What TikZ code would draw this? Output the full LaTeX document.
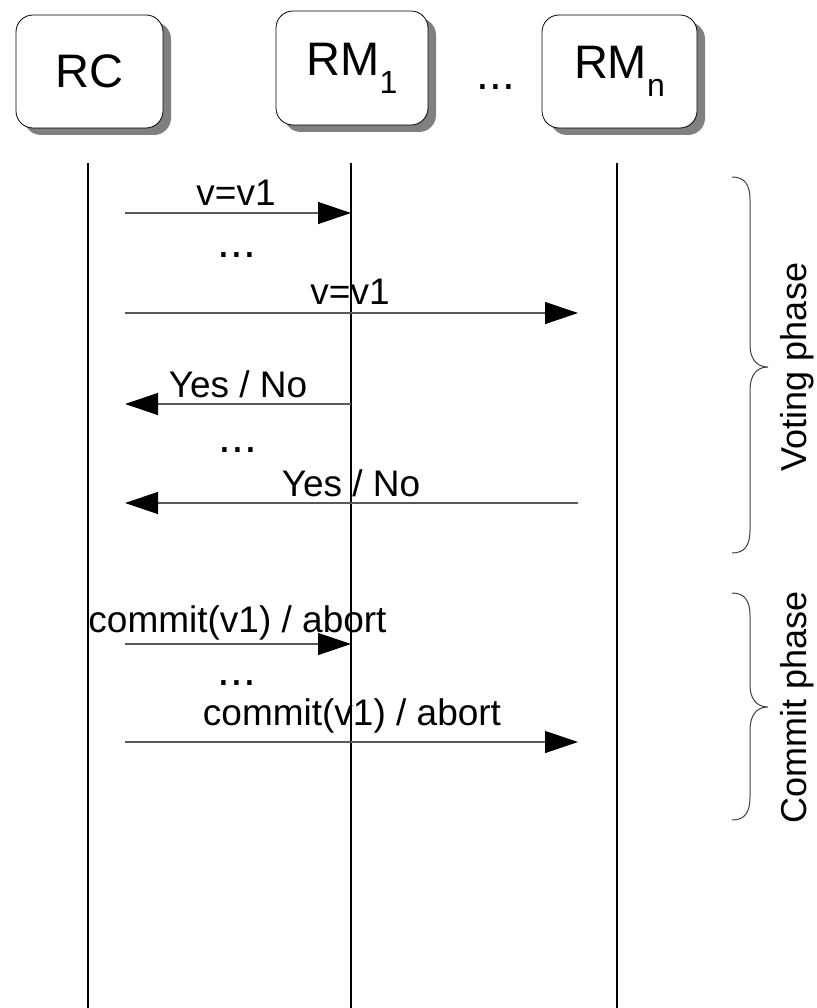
\documentclass[tikz,border=0pt]{standalone}
\usepackage{fontspec}
\setmainfont{Liberation Sans}
\usetikzlibrary{arrows.meta,shadows}

\begin{document}
\begin{tikzpicture}[x=1pt,y=-1pt,
  actor/.style={draw=black, line width=0.8pt, fill=white, rounded corners=17pt,
    inner sep=0pt, font=\fontsize{47}{47}\selectfont,
    drop shadow={shadow xshift=8pt, shadow yshift=-7pt, fill=black!50, opacity=1}},
  lifeline/.style={line width=2pt, black},
  msg/.style={line width=1.3pt, black!65, -{Triangle[length=33pt,width=22pt,black]}},
  lbl/.style={anchor=base, inner sep=0pt, font=\fontsize{37}{37}\selectfont},
  dots/.style={anchor=base, inner sep=0pt, font=\fontsize{46}{46}\selectfont},
  brace/.style={line width=1pt, black!75},
  phase/.style={anchor=base, rotate=90, inner sep=0pt, font=\fontsize{36}{36}\selectfont}]

\useasboundingbox (0,0) rectangle (816,1008);

% participants
\newcommand{\subidx}[1]{\raisebox{-18pt}{\fontsize{32}{32}\selectfont #1}}
\node[actor, minimum width=147pt, minimum height=113pt] (rc) at (89.5,71.5) {RC};
\node[actor, minimum width=152pt, minimum height=114pt] (rm1) at (352,68) {RM\subidx{1}};
\node[actor, minimum width=155pt, minimum height=113pt] (rmn) at (619.5,71.5) {RM\subidx{n}};
\node[dots] (gap) at (496,90) {...};

% lifelines
\coordinate (rcT) at (88,163);   \coordinate (rcB) at (88,1008);
\coordinate (m1T) at (351,163);  \coordinate (m1B) at (351,1008);
\coordinate (mnT) at (617,163);  \coordinate (mnB) at (617,1008);
\draw[lifeline] (rcT) -- (rcB);
\draw[lifeline] (m1T) -- (m1B);
\draw[lifeline] (mnT) -- (mnB);

% message end points
\coordinate (a1s) at (125,213); \coordinate (a1e) at (351,213);
\coordinate (a2s) at (125,313); \coordinate (a2e) at (578,313);
\coordinate (a3s) at (351,404); \coordinate (a3e) at (125,404);
\coordinate (a4s) at (578,503); \coordinate (a4e) at (125,503);
\coordinate (a5s) at (125,644); \coordinate (a5e) at (351,644);
\coordinate (a6s) at (125,742); \coordinate (a6e) at (578,742);

% voting phase messages
\draw[msg] (a1s) -- (a1e);
\node[lbl] (l1) at (236,206) {v=v1};
\node[dots] (d1) at (237,258) {...};
\draw[msg] (a2s) -- (a2e);
\node[lbl] (l2) at (350,304) {v=v1};
\draw[msg] (a3s) -- (a3e);
\node[lbl] (l3) at (238,397) {Yes / No};
\node[dots] (d2) at (238,452) {...};
\draw[msg] (a4s) -- (a4e);
\node[lbl] (l4) at (351,496) {Yes / No};

% commit phase messages
\draw[msg] (a5s) -- (a5e);
\node[lbl] (l5) at (237.5,632) {commit(v1) / abort};
\node[dots] (d3) at (237,685) {...};
\draw[msg] (a6s) -- (a6e);
\node[lbl] (l6) at (352,725) {commit(v1) / abort};

% phase braces
\coordinate (vtop) at (732,177); \coordinate (vtip) at (768,367); \coordinate (vbot) at (732,553);
\draw[brace] (vtop) .. controls (745,177) and (750,185) .. (750,200) -- (750,345)
  .. controls (750,358) and (756,367) .. (vtip)
  .. controls (756,367) and (750,376) .. (750,390) -- (750,530)
  .. controls (750,545) and (745,553) .. (vbot);
\node[phase] (vp) at (806,367) {Voting phase};

\coordinate (ctop) at (732,593); \coordinate (ctip) at (768,707); \coordinate (cbot) at (732,820);
\draw[brace] (ctop) .. controls (745,593) and (750,601) .. (750,616) -- (750,685)
  .. controls (750,698) and (756,707) .. (ctip)
  .. controls (756,707) and (750,716) .. (750,730) -- (750,797)
  .. controls (750,812) and (745,820) .. (cbot);
\node[phase] (cp) at (806,707) {Commit phase};

\end{tikzpicture}
\end{document}
